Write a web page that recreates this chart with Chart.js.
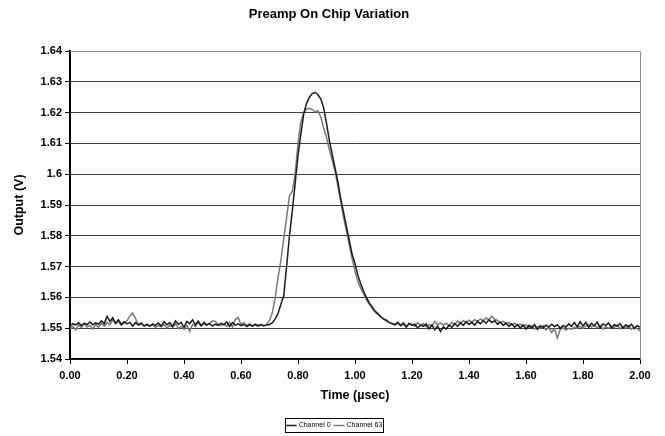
<!DOCTYPE html>
<html>
<head>
<meta charset="utf-8">
<script src="https://cdn.jsdelivr.net/npm/chart.js@4/dist/chart.umd.min.js"></script>
<style>
  html, body { margin: 0; padding: 0; background: #fff; }
  #wrap { width: 665px; height: 436px; }
</style>
</head>
<body>
<div id="wrap"><canvas id="chart"></canvas></div>
<script>
// sampling grid of the scope trace (usec)
var T_START = 0.00;
var T_STEP = 0.01;

var chartTitle = 'Preamp On Chip Variation';
var xTitle = 'Time (\u00b5sec)';
var yTitle = 'Output (V)';
var seriesNames = ['Channel 0', 'Channel 63'];

// Channel 0, one value per 0.01 usec
var channel0 = [
  1.5508, 1.5514, 1.5511, 1.5518, 1.5509, 1.5516, 1.5512, 1.5520, 1.5511, 1.5517,
  1.5513, 1.5524, 1.5515, 1.5538, 1.5522, 1.5534, 1.5516, 1.5527, 1.5512, 1.5521,
  1.5514, 1.5519, 1.5507, 1.5518, 1.5510, 1.5515, 1.5508, 1.5512, 1.5506, 1.5514,
  1.5509, 1.5517, 1.5507, 1.5521, 1.5511, 1.5518, 1.5506, 1.5524, 1.5512, 1.5519,
  1.5503, 1.5522, 1.5515, 1.5527, 1.5511, 1.5523, 1.5508, 1.5516, 1.5510, 1.5514,
  1.5507, 1.5513, 1.5509, 1.5516, 1.5511, 1.5520, 1.5506, 1.5518, 1.5510, 1.5514,
  1.5508, 1.5512, 1.5505, 1.5511, 1.5507, 1.5513, 1.5509, 1.5512, 1.5508, 1.5510,
  1.5512, 1.5518, 1.5530, 1.5548, 1.5578, 1.5605, 1.5700, 1.5800, 1.5880, 1.5970,
  1.6060, 1.6130, 1.6195, 1.6230, 1.6250, 1.6262, 1.6266, 1.6258, 1.6245, 1.6215,
  1.6165, 1.6110, 1.6065, 1.6020, 1.5975, 1.5920, 1.5875, 1.5830, 1.5785, 1.5740,
  1.5710, 1.5672, 1.5645, 1.5620, 1.5600, 1.5582, 1.5570, 1.5556, 1.5548, 1.5538,
  1.5530, 1.5526, 1.5519, 1.5515, 1.5512, 1.5519, 1.5508, 1.5514, 1.5503, 1.5516,
  1.5509, 1.5513, 1.5501, 1.5511, 1.5506, 1.5514, 1.5498, 1.5510, 1.5495, 1.5507,
  1.5489, 1.5504, 1.5497, 1.5510, 1.5503, 1.5515, 1.5506, 1.5518, 1.5509, 1.5521,
  1.5512, 1.5519, 1.5510, 1.5522, 1.5514, 1.5525, 1.5516, 1.5527, 1.5518, 1.5524,
  1.5513, 1.5520, 1.5509, 1.5517, 1.5506, 1.5514, 1.5503, 1.5512, 1.5500, 1.5511,
  1.5497, 1.5509, 1.5501, 1.5512, 1.5496, 1.5508, 1.5502, 1.5510, 1.5504, 1.5513,
  1.5505, 1.5511, 1.5499, 1.5509, 1.5503, 1.5514, 1.5506, 1.5518, 1.5504, 1.5521,
  1.5507, 1.5519, 1.5503, 1.5516, 1.5508, 1.5520, 1.5502, 1.5514, 1.5509, 1.5517,
  1.5501, 1.5512, 1.5506, 1.5515, 1.5500, 1.5511, 1.5504, 1.5513, 1.5499, 1.5508,
  1.5504
];

// Channel 63
var channel63 = [
  1.5498, 1.5506, 1.5494, 1.5511, 1.5502, 1.5515, 1.5504, 1.5509, 1.5497, 1.5512,
  1.5503, 1.5516, 1.5507, 1.5519, 1.5511, 1.5527, 1.5514, 1.5522, 1.5509, 1.5517,
  1.5524, 1.5540, 1.5549, 1.5531, 1.5512, 1.5519, 1.5505, 1.5513, 1.5508, 1.5511,
  1.5502, 1.5509, 1.5504, 1.5512, 1.5500, 1.5510, 1.5503, 1.5514, 1.5499, 1.5506,
  1.5496, 1.5509, 1.5490, 1.5512, 1.5505, 1.5518, 1.5508, 1.5521, 1.5511, 1.5516,
  1.5524, 1.5522, 1.5513, 1.5509, 1.5514, 1.5506, 1.5519, 1.5504, 1.5528, 1.5535,
  1.5512, 1.5518, 1.5509, 1.5515, 1.5507, 1.5511, 1.5505, 1.5510, 1.5507, 1.5512,
  1.5525, 1.5550, 1.5600, 1.5665, 1.5720, 1.5790, 1.5860, 1.5930, 1.5945, 1.6000,
  1.6100, 1.6170, 1.6200, 1.6212, 1.6214, 1.6210, 1.6202, 1.6206, 1.6185, 1.6150,
  1.6120, 1.6080, 1.6045, 1.6010, 1.5960, 1.5910, 1.5860, 1.5815, 1.5770, 1.5725,
  1.5685, 1.5652, 1.5630, 1.5612, 1.5592, 1.5578, 1.5565, 1.5553, 1.5545, 1.5537,
  1.5530, 1.5524, 1.5518, 1.5514, 1.5509, 1.5516, 1.5511, 1.5519, 1.5507, 1.5514,
  1.5512, 1.5506, 1.5518, 1.5509, 1.5515, 1.5504, 1.5512, 1.5508, 1.5522, 1.5511,
  1.5517, 1.5510, 1.5516, 1.5508, 1.5519, 1.5512, 1.5523, 1.5515, 1.5525, 1.5518,
  1.5526, 1.5520, 1.5528, 1.5522, 1.5530, 1.5524, 1.5533, 1.5527, 1.5539, 1.5529,
  1.5525, 1.5518, 1.5522, 1.5514, 1.5519, 1.5511, 1.5516, 1.5508, 1.5513, 1.5505,
  1.5511, 1.5502, 1.5509, 1.5497, 1.5506, 1.5500, 1.5508, 1.5494, 1.5503, 1.5486,
  1.5499, 1.5468, 1.5496, 1.5502, 1.5494, 1.5500, 1.5497, 1.5503, 1.5499, 1.5506,
  1.5500, 1.5508, 1.5512, 1.5504, 1.5510, 1.5501, 1.5509, 1.5497, 1.5505, 1.5499,
  1.5507, 1.5502, 1.5510, 1.5498, 1.5506, 1.5500, 1.5509, 1.5496, 1.5503, 1.5498,
  1.5492
];

var seriesColors = ['#1c1c1c', '#7a7a7a'];

function toPoints(values) {
    return values.map(function(v, i) {
        return { x: T_START + i * T_STEP, y: v };
    });
}

// title, grey top/right frame and the boxed legend under the axis title
var excelBits = {
    id: 'excelBits',
    afterDraw: function(chart) {
        var ctx = chart.ctx;
        var area = chart.chartArea;
        ctx.save();

        ctx.strokeStyle = '#8c8c8c';
        ctx.lineWidth = 1;
        ctx.beginPath();
        ctx.moveTo(area.left, area.top + 0.5);
        ctx.lineTo(area.right + 0.5, area.top + 0.5);
        ctx.lineTo(area.right + 0.5, area.bottom);
        ctx.stroke();

        ctx.fillStyle = '#000';
        ctx.font = 'bold 13px "Liberation Sans", Arial, sans-serif';
        ctx.textAlign = 'center';
        ctx.textBaseline = 'middle';
        ctx.fillText(chartTitle, 329, 14);

        // legend: box, then line sample + label for each series
        var bx = 285, by = 418, bw = 98, bh = 14;
        var sample = 11;
        ctx.strokeStyle = '#000';
        ctx.lineWidth = 1;
        ctx.strokeRect(bx + 0.5, by + 0.5, bw, bh);
        ctx.font = '7px "Liberation Sans", Arial, sans-serif';
        ctx.textAlign = 'left';
        var total = 0;
        chart.data.datasets.forEach(function(ds, i) {
            total += sample + 2 + ctx.measureText(ds.label).width + (i ? 0 : 3);
        });
        var x = bx + (bw - total) / 2;
        var midY = by + bh / 2 + 0.5;
        chart.data.datasets.forEach(function(ds) {
            ctx.strokeStyle = ds.borderColor;
            ctx.lineWidth = 1.5;
            ctx.beginPath();
            ctx.moveTo(x, midY);
            ctx.lineTo(x + sample, midY);
            ctx.stroke();
            ctx.fillStyle = '#000';
            ctx.fillText(ds.label, x + sample + 2, midY);
            x += sample + 2 + ctx.measureText(ds.label).width + 3;
        });
        ctx.restore();
    }
};

var ctx = document.getElementById('chart').getContext('2d');
var chart = new Chart(ctx, {
    type: 'line',
    data: {
        datasets: [
            {
                label: seriesNames[0],
                data: toPoints(channel0),
                borderColor: seriesColors[0],
                borderWidth: 1.5,
                pointRadius: 0,
                tension: 0,
                fill: false
            },
            {
                label: seriesNames[1],
                data: toPoints(channel63),
                borderColor: seriesColors[1],
                borderWidth: 1.5,
                pointRadius: 0,
                tension: 0,
                fill: false
            }
        ]
    },
    options: {
        responsive: true,
        maintainAspectRatio: false,
        animation: false,
        layout: { padding: { left: 0, right: 25, top: 51, bottom: 0 } },
        plugins: {
            legend: { display: false },
            title: { display: false },
            tooltip: { enabled: false }
        },
        scales: {
            x: {
                type: 'linear',
                min: 0,
                max: 2,
                afterFit: function(scale) { scale.height = 77; },
                ticks: {
                    stepSize: 0.2,
                    color: '#000',
                    padding: 5,
                    maxRotation: 0,
                    font: { family: '"Liberation Sans", Arial, sans-serif', size: 11, weight: 'bold' },
                    callback: function(v) { return Number(v).toFixed(2); }
                },
                grid: { drawOnChartArea: false, drawTicks: true, tickLength: 5, tickColor: '#000' },
                border: { color: '#000', width: 1.5 },
                title: {
                    display: true,
                    text: xTitle,
                    color: '#000',
                    padding: { top: 0, bottom: 33 },
                    font: { family: '"Liberation Sans", Arial, sans-serif', size: 12.5, weight: 'bold' }
                }
            },
            y: {
                min: 1.54,
                max: 1.64,
                afterFit: function(scale) { scale.width = 70; },
                ticks: {
                    stepSize: 0.01,
                    color: '#000',
                    padding: 3,
                    font: { family: '"Liberation Sans", Arial, sans-serif', size: 11, weight: 'bold' },
                    callback: function(v) { return String(parseFloat(Number(v).toFixed(2))); }
                },
                grid: { color: '#3c3c3c', lineWidth: 1, drawTicks: true, tickLength: 5, tickColor: '#000' },
                border: { color: '#000', width: 2 },
                title: {
                    display: true,
                    text: yTitle,
                    color: '#000',
                    padding: { top: 12, bottom: 0 },
                    font: { family: '"Liberation Sans", Arial, sans-serif', size: 12.5, weight: 'bold' }
                }
            }
        }
    },
    plugins: [excelBits]
});
</script>
</body>
</html>
